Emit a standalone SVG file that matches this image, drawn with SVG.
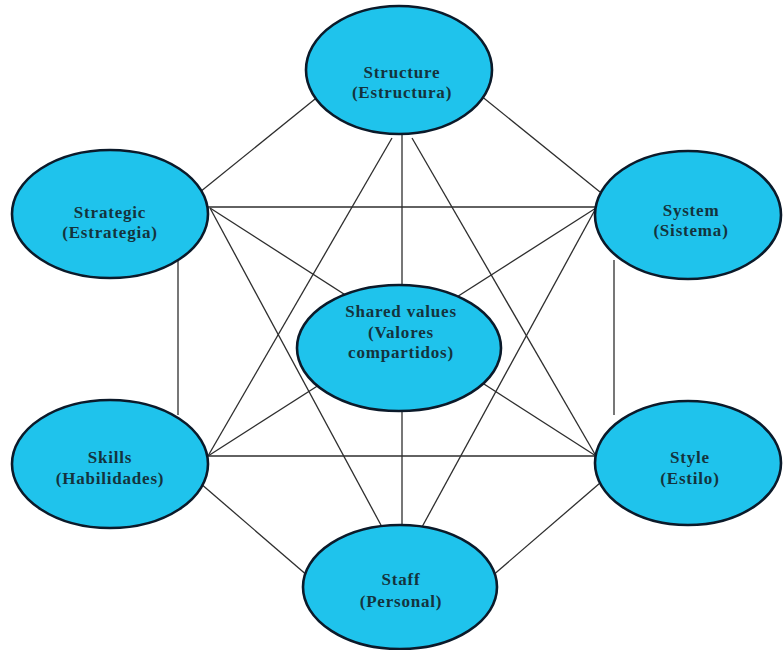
<svg xmlns="http://www.w3.org/2000/svg" width="783" height="650" viewBox="0 0 783 650">
<style>
.bg{fill:#ffffff}
.ln line{stroke:#2e2e2e;stroke-width:1.3;fill:none}
.node ellipse{fill:#1fc3ec;stroke:#0b1a2a;stroke-width:2.6}
.node text{font-family:"Liberation Serif","Times New Roman",serif;font-weight:bold;font-size:17px;letter-spacing:0.8px;fill:#14333d;text-anchor:middle}
</style>
<rect class="bg" x="0" y="0" width="783" height="650"/>
<g id="connectors" class="ln">
<line x1="200" y1="192" x2="320" y2="95"/>
<line x1="480" y1="95" x2="600" y2="192"/>
<line x1="402" y1="130" x2="402" y2="530"/>
<line x1="392" y1="138" x2="208" y2="456"/>
<line x1="412" y1="138" x2="596" y2="456"/>
<line x1="208" y1="207" x2="596" y2="207"/>
<line x1="210" y1="208" x2="596" y2="456"/>
<line x1="210" y1="208" x2="382" y2="527"/>
<line x1="596" y1="208" x2="208" y2="456"/>
<line x1="596" y1="208" x2="422" y2="527"/>
<line x1="178" y1="260" x2="178" y2="415"/>
<line x1="614" y1="260" x2="614" y2="415"/>
<line x1="208" y1="456" x2="596" y2="456"/>
<line x1="200" y1="483" x2="330" y2="595"/>
<line x1="600" y1="483" x2="470" y2="595"/>
</g>
<g id="structure" class="node">
<ellipse cx="399" cy="70" rx="93" ry="64"/>
<text x="402" y="78">Structure</text>
<text x="402" y="98">(Estructura)</text>
</g>
<g id="strategic" class="node">
<ellipse cx="110" cy="214" rx="98" ry="64"/>
<text x="110" y="218">Strategic</text>
<text x="110" y="238">(Estrategia)</text>
</g>
<g id="system" class="node">
<ellipse cx="688" cy="215" rx="93" ry="64"/>
<text x="691" y="216">System</text>
<text x="691" y="236">(Sistema)</text>
</g>
<g id="shared-values" class="node">
<ellipse cx="399" cy="348" rx="102" ry="63"/>
<text x="401" y="317">Shared values</text>
<text x="401" y="338">(Valores</text>
<text x="401" y="358">compartidos)</text>
</g>
<g id="skills" class="node">
<ellipse cx="110" cy="464" rx="98" ry="64"/>
<text x="110" y="463">Skills</text>
<text x="110" y="484">(Habilidades)</text>
</g>
<g id="style" class="node">
<ellipse cx="688" cy="463" rx="93" ry="62"/>
<text x="690" y="463">Style</text>
<text x="690" y="484">(Estilo)</text>
</g>
<g id="staff" class="node">
<ellipse cx="400" cy="587" rx="97" ry="62"/>
<text x="401" y="585">Staff</text>
<text x="401" y="607">(Personal)</text>
</g>
</svg>
